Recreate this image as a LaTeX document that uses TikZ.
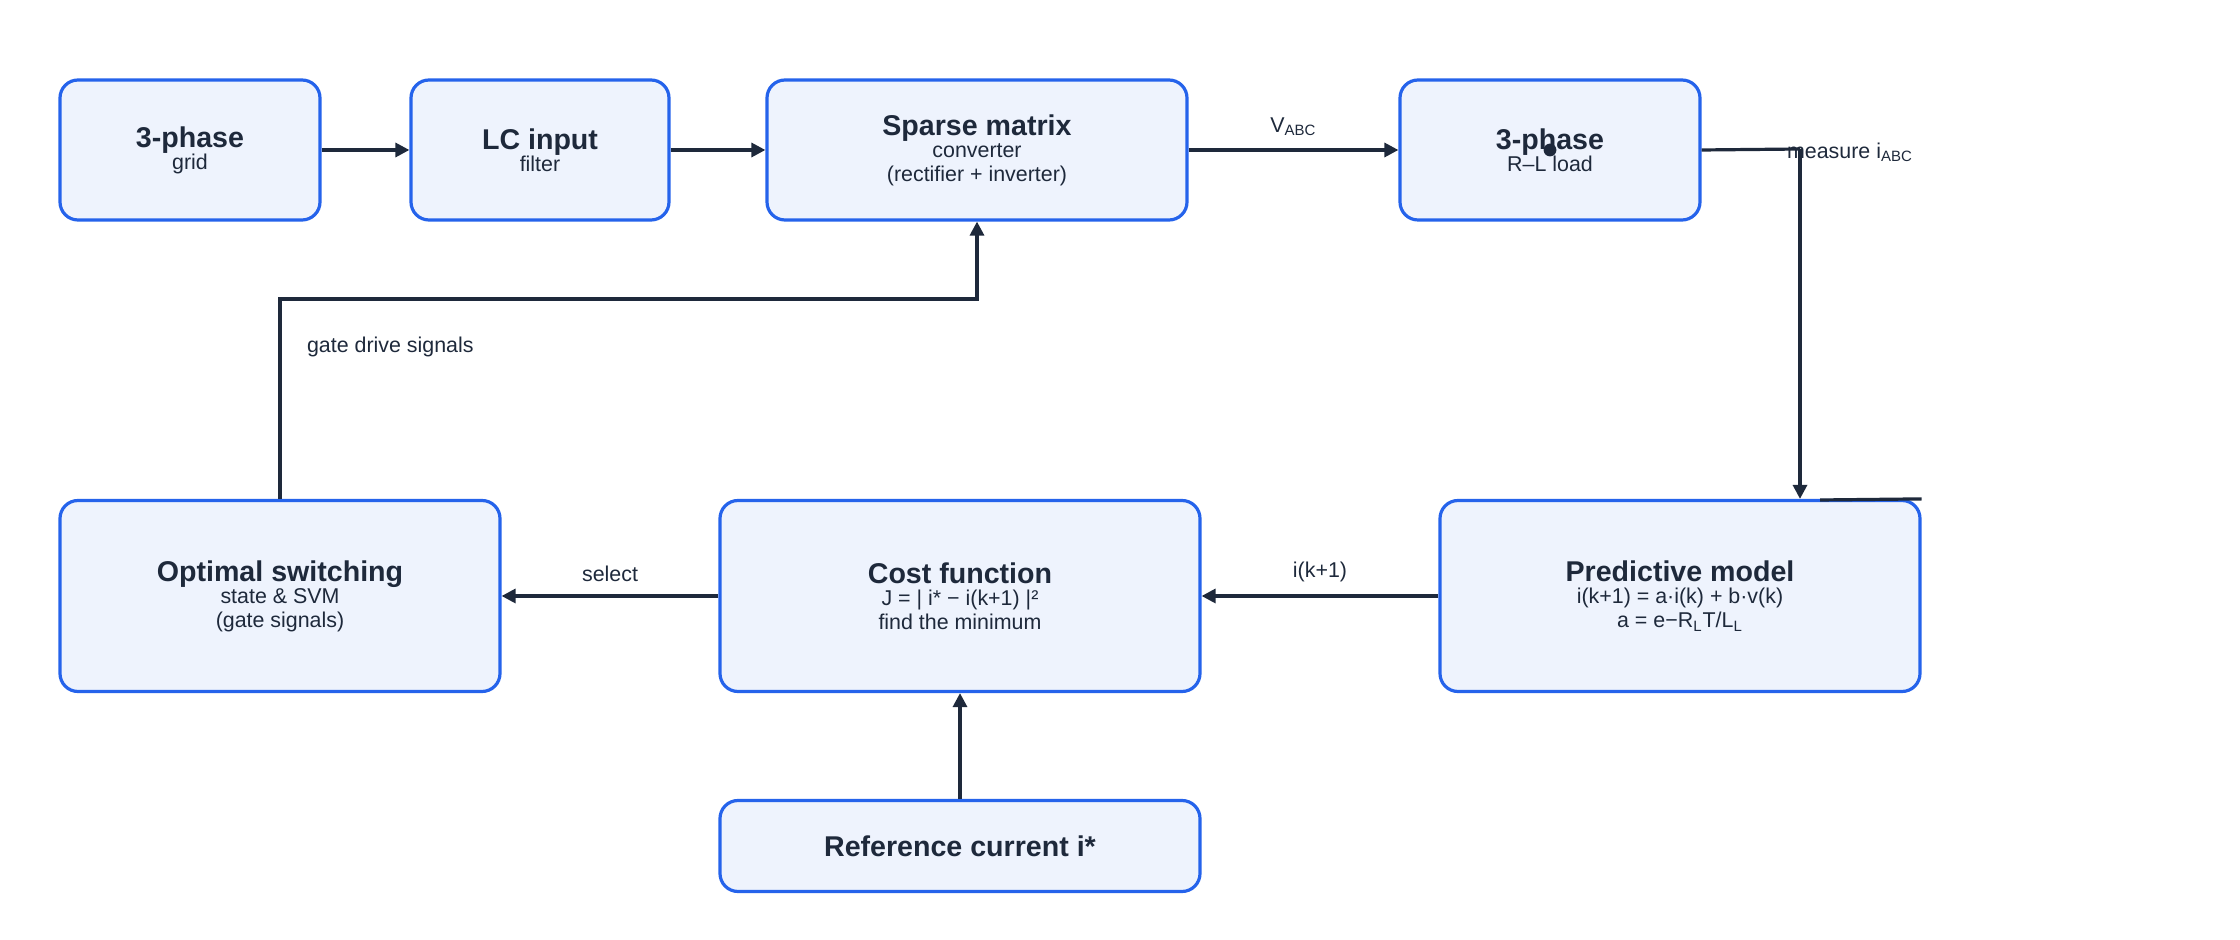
\documentclass[tikz,border=0pt]{standalone}
\usepackage{fontspec}
\setmainfont{Liberation Sans}
\usetikzlibrary{arrows.meta}
\definecolor{bfill}{HTML}{EEF3FD}
\definecolor{bdraw}{HTML}{2563EB}
\definecolor{ink}{HTML}{1E293B}
\begin{document}
\begin{tikzpicture}[x=0.5pt,y=-0.5pt,
  blk/.style={draw=bdraw,fill=bfill,line width=1.6pt,rounded corners=9pt,align=center,text=ink,inner sep=0pt},
  ttl/.style={font=\fontsize{14.3}{17}\selectfont\bfseries},
  sub/.style={font=\fontsize{10.7}{16}\selectfont},
  conn/.style={draw=ink,line width=1.6pt,-{Triangle[length=7pt,width=7pt]}},
  lbl/.style={text=ink,font=\fontsize{10.7}{13}\selectfont}]
\useasboundingbox (0,0) rectangle (2240,940);
\newcommand{\blkbox}[6]{\node[blk,minimum width=#4*0.5pt,minimum height=#5*0.5pt] (#1) at (#2,#3) {#6};}
\blkbox{grid}{190}{150}{260}{140}{{\fontsize{14.3}{17}\selectfont\bfseries 3-phase}\\[-1pt]{\fontsize{10.7}{14}\selectfont grid}}
\blkbox{lc}{540}{150}{258}{140}{{\fontsize{14.3}{17}\selectfont\bfseries LC input}\\[-1pt]{\fontsize{10.7}{14}\selectfont filter}}
\blkbox{sm}{977}{150}{420}{140}{{\fontsize{14.3}{17}\selectfont\bfseries Sparse matrix}\\[-1pt]{\fontsize{10.7}{16}\selectfont converter}\\{\fontsize{10.7}{16}\selectfont (rectifier + inverter)}}
\blkbox{load}{1550}{150}{300}{140}{{\fontsize{14.3}{17}\selectfont\bfseries 3-phase}\\[-1pt]{\fontsize{10.7}{14}\selectfont R–L load}}
\blkbox{opt}{280}{596}{440}{191}{{\fontsize{14.3}{17}\selectfont\bfseries Optimal switching}\\[-1pt]{\fontsize{10.7}{16}\selectfont state \& SVM}\\{\fontsize{10.7}{16}\selectfont (gate signals)}}
\blkbox{cost}{960}{596}{480}{191}{{\fontsize{14.3}{17}\selectfont\bfseries Cost function}\\[-1pt]{\fontsize{10.7}{16}\selectfont J = | i* − i(k+1) |²}\\{\fontsize{10.7}{16}\selectfont find the minimum}}
\blkbox{pred}{1680}{596}{480}{191}{{\fontsize{14.3}{17}\selectfont\bfseries Predictive model}\\[-1pt]{\fontsize{10.7}{16}\selectfont i(k+1) = a·i(k) + b·v(k)}\\{\fontsize{10.7}{16}\selectfont a = e−R\textsubscript{L}T/L\textsubscript{L}}}
\blkbox{ref}{960}{846}{480}{91}{{\fontsize{14.3}{17}\selectfont\bfseries Reference current i*}}
\draw[conn] (grid) -- (lc);
\draw[conn] (lc) -- (sm);
\draw[conn] (sm) -- node[lbl,above=3pt]{V\textsubscript{ABC}} (load);
\coordinate (tap) at (1800,149);
\fill[ink] (load.center) circle (3.2pt);
\draw[draw=ink,line width=1.6pt] (load.east) -- (tap);
\draw[conn] (tap) -- (tap|-pred.north);
\draw[draw=ink,line width=1.6pt] (1820,500) -- (pred.north east);
\node[lbl,anchor=west] at (1780,152) {measure i\textsubscript{ABC}};
\coordinate (g1) at (280,299);
\coordinate (g2) at (977,299);
\draw[conn] (opt.north-|g1) -- (g1) -- (g2) -- (sm.south);
\node[lbl,anchor=west] at (300,347) {gate drive signals};
\draw[conn] (pred) -- node[lbl,above=3pt]{i(k+1)} (cost);
\draw[conn] (cost) -- node[lbl,above=3pt]{select} (opt);
\draw[conn] (ref) -- (cost);
\end{tikzpicture}
\end{document}
